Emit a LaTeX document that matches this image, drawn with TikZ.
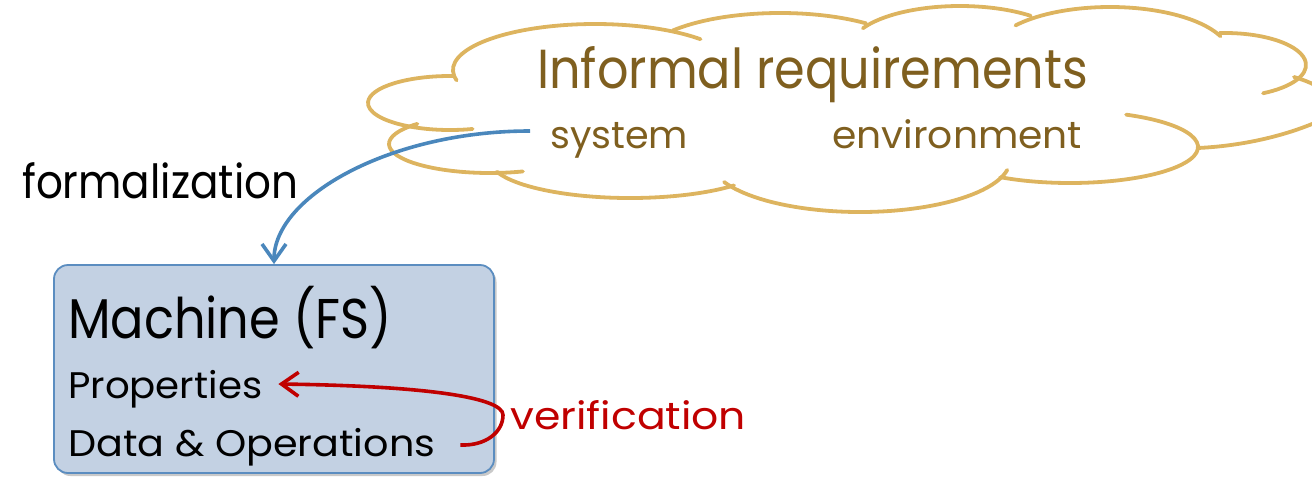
\documentclass[tikz,border=0pt]{standalone}
\usepackage{fontspec}
\usepackage{graphicx}
\setmainfont{Poppins}
\usetikzlibrary{arrows.meta,shadows,calc}

\definecolor{cloudline}{HTML}{DDB45F}
\definecolor{cloudtext}{HTML}{7F5F1F}
\definecolor{formblue}{HTML}{4A87BC}
\definecolor{boxline}{HTML}{5B8DC0}
\definecolor{boxfill}{HTML}{C3D1E3}
\definecolor{verired}{HTML}{C00000}

% squeeze a text horizontally to a given width, keeping its height
\newcommand\fitto[2]{\resizebox{#1}{\height}{#2}}
\newcommand\fsz[1]{\fontsize{#1}{#1}\selectfont}
% one puff of the cloud: centre x, centre y, x radius, y radius, start angle, end angle
\newcommand\cloudlobe[6]{\draw[lobe] (#1,#2) ++(#5:#3 and #4)
  arc[start angle=#5, end angle=#6, x radius=#3, y radius=#4];}

\tikzset{
  lbl/.style={inner sep=0pt, anchor=base west},
  lobe/.style={draw=cloudline, line width=3.8pt, line cap=round},
  barb/.style={-{Straight Barb[length=17pt,width=24pt]}, line width=3.6pt},
  machinebox/.style={draw=boxline, line width=1.8pt, fill=boxfill,
    rounded corners=14pt, minimum width=440pt, minimum height=208pt,
    drop shadow={shadow xshift=2.5pt, shadow yshift=-3pt, opacity=0.3, fill=black!70}},
}

\begin{document}
\begin{tikzpicture}[x=1pt, y=-1pt]
\useasboundingbox (0,0) rectangle (1312,480);

% the cloud, built from overlapping elliptic puffs
\begin{scope}
\clip (0,0) rectangle (1312,480);
\cloudlobe{450}{103}{82}{27}{272}{74}
\cloudlobe{490}{144}{101}{29}{224}{71}
\cloudlobe{630}{160}{140}{38}{162}{42}
\cloudlobe{860}{160}{150}{52}{155}{11}
\cloudlobe{1070}{147}{128}{36}{-64}{123}
\cloudlobe{1225}{65}{81}{32}{-94}{62}
\cloudlobe{1110}{55}{120}{48}{-142}{-23}
\cloudlobe{960}{48}{110}{42}{-152}{-50}
\cloudlobe{780}{62}{140}{49}{-140}{-52}
\cloudlobe{595}{70}{142}{46}{167}{318}
\draw[lobe] (1294,77) .. controls (1345,92) and (1345,118) .. (1312,124)
  .. controls (1280,137) and (1240,146) .. (1198,148);
\end{scope}

% cloud texts
\node[lbl, text=cloudtext, font=\fsz{55}] (informal) at (537,88) {\fitto{551pt}{Informal requirements}};
\node[lbl, text=cloudtext, font=\fsz{38}] (system) at (550,148) {\fitto{138pt}{system}};
\node[lbl, text=cloudtext, font=\fsz{38}] (environment) at (832,148) {\fitto{250pt}{environment}};

% the machine
\node[machinebox] (machine) at (274,369) {};
\node[lbl, font=\fsz{56}] (mtitle) at (68,338) {\fitto{324pt}{Machine (FS)}};
\node[lbl, font=\fsz{37}] (props) at (68,398) {\fitto{194pt}{Properties}};
\node[lbl, font=\fsz{37}] (data) at (68,456) {\fitto{367pt}{Data \& Operations}};

% formalization arrow
\node[lbl, font=\fsz{47}] (formal) at (22,198) {\fitto{276pt}{formalization}};
\coordinate (fstart) at (530,131);
\draw[barb, formblue] (fstart) .. controls (391,131) and (274,196) .. (machine.north);

% verification arrow
\node[lbl, text=verired, font=\fsz{38}] (verif) at (510,429) {\fitto{236pt}{verification}};
\coordinate (vfrom) at ($(data.base east)+(25,-11)$);
\coordinate (vturn) at (503,415);
\coordinate (vto) at ($(props.base east)+(16,-14)$);
\draw[barb, verired] (vfrom) .. controls (486,446) and (503,432) .. (vturn)
  .. controls (503,398) and (430,386) .. (vto);
\end{tikzpicture}
\end{document}
